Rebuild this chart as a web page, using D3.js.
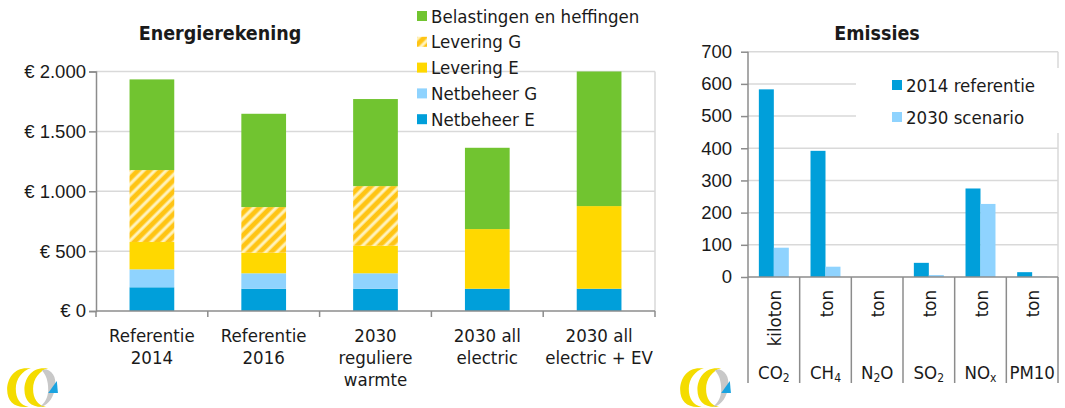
<!DOCTYPE html>
<html>
<head>
<meta charset="utf-8">
<script src="https://cdn.jsdelivr.net/npm/d3@7"></script>
<style>
  body { margin: 0; background: #fff; }
  svg { display: block; font-family: "DejaVu Sans Condensed", "DejaVu Sans", sans-serif; font-stretch: condensed; }
  text { fill: #1a1a1a; }
</style>
</head>
<body>
<svg width="1065" height="408"></svg>
<script>
// --- data: energierekening (euro per jaar) ---
let costCats = ['Referentie|2014', 'Referentie|2016', '2030|reguliere|warmte', '2030 all|electric', '2030 all|electric + EV']
let netbeheerE = [198, 186, 186, 186, 186]
let netbeheerG = [150, 129, 129, 0, 0]
let leveringE = [228, 172, 230, 498, 690]
let leveringG = [601, 381, 498, 0, 0]
let belastingen = [757, 779, 727, 679, 1124]
let costTicks = [0, 500, 1000, 1500, 2000]

// --- data: emissies ---
let pollutants = ['CO2', 'CH4', 'N2O', 'SO2', 'NOx', 'PM10']
let units = ['kiloton', 'ton', 'ton', 'ton', 'ton', 'ton']
let ref2014 = [583, 392, 0, 44, 275, 15]
let scen2030 = [91, 32, 0, 6, 227, 1]
let emisTicks = [0, 100, 200, 300, 400, 500, 600, 700]

let svg = d3.select('svg')
let gridColor = '#d9d9d9'
let axisColor = '#8c8c8c'
let fs = '18.5px'

let defs = svg.append('defs')
let pat = defs.append('pattern')
    .attr('id', 'hatch')
    .attr('patternUnits', 'userSpaceOnUse')
    .attr('width', 8).attr('height', 8)
    .attr('patternTransform', 'rotate(45)')
pat.append('rect').attr('width', 8).attr('height', 8).attr('fill', '#fff2bd')
pat.append('rect').attr('x', 0).attr('width', 4).attr('height', 8).attr('fill', '#ffc414')
pat.append('rect').attr('x', 4).attr('width', 1).attr('height', 8).attr('fill', '#ffd95c')
pat.append('rect').attr('x', 7).attr('width', 1).attr('height', 8).attr('fill', '#ffe27e')

// ================= left chart =================
let keys = ['netbeheerE', 'netbeheerG', 'leveringE', 'leveringG', 'belastingen']
let colors = {
    netbeheerE: '#009fda',
    netbeheerG: '#8fd3fe',
    leveringE: '#ffd800',
    leveringG: 'url(#hatch)',
    belastingen: '#71c430'
}
let labels = {
    netbeheerE: 'Netbeheer E',
    netbeheerG: 'Netbeheer G',
    leveringE: 'Levering E',
    leveringG: 'Levering G',
    belastingen: 'Belastingen en heffingen'
}
let rows = costCats.map((c, i) => ({
    cat: c,
    netbeheerE: netbeheerE[i],
    netbeheerG: netbeheerG[i],
    leveringE: leveringE[i],
    leveringG: leveringG[i],
    belastingen: belastingen[i]
}))

let xL = d3.scaleBand().domain(costCats).range([96, 655]).paddingInner(0.6).paddingOuter(0.3)
let yL = d3.scaleLinear().domain([0, 2000]).range([311, 71.5])

let left = svg.append('g')

// gridlines
left.selectAll('.grid')
    .data(costTicks.slice(1))
    .enter()
    .append('line')
    .attr('x1', 96).attr('x2', 655)
    .attr('y1', d => yL(d)).attr('y2', d => yL(d))
    .attr('stroke', gridColor).attr('stroke-width', 1.5)
left.append('line')
    .attr('x1', 655).attr('x2', 655)
    .attr('y1', yL(2000)).attr('y2', yL(0))
    .attr('stroke', gridColor).attr('stroke-width', 1.5)

let stacked = d3.stack().keys(keys)(rows)
left.selectAll('.layer')
    .data(stacked)
    .enter()
    .append('g')
    .attr('fill', d => colors[d.key])
    .selectAll('rect')
    .data(d => d)
    .enter()
    .append('rect')
    .attr('x', d => xL(d.data.cat))
    .attr('width', xL.bandwidth())
    .attr('y', d => yL(d[1]))
    .attr('height', d => yL(d[0]) - yL(d[1]))

// y axis
let yAxisL = d3.axisLeft(yL)
    .tickValues(costTicks)
    .tickSize(7)
    .tickFormat(d => '€ ' + d3.format(',')(d).replace(',', '.'))
let ya = left.append('g')
    .attr('transform', 'translate(96,0)')
    .call(yAxisL)
ya.select('.domain').attr('stroke', axisColor).attr('stroke-width', 1.5)
ya.selectAll('.tick line').attr('stroke', axisColor).attr('stroke-width', 1.5)
ya.selectAll('.tick text')
    .attr('x', -10)
    .style('font-size', fs)
    .style('font-family', null)
    .attr('font-family', null)
    .attr('fill', '#1a1a1a')

// x axis line + boundary ticks
left.append('line')
    .attr('x1', 96).attr('x2', 655)
    .attr('y1', 311).attr('y2', 311)
    .attr('stroke', axisColor).attr('stroke-width', 1.5)
let step = xL.step()
left.selectAll('.xtick')
    .data(d3.range(costCats.length + 1))
    .enter()
    .append('line')
    .attr('x1', i => 96 + i * step).attr('x2', i => 96 + i * step)
    .attr('y1', 311).attr('y2', 317)
    .attr('stroke', axisColor).attr('stroke-width', 1.5)

// category labels
left.selectAll('.xlab')
    .data(costCats)
    .enter()
    .append('text')
    .attr('text-anchor', 'middle')
    .style('font-size', fs)
    .each(function (d) {
        let t = d3.select(this)
        d.split('|').forEach((line, j) => {
            t.append('tspan')
                .attr('x', xL(d) + xL.bandwidth() / 2)
                .attr('y', 342 + j * 22)
                .text(line)
        })
    })

// title
left.append('text')
    .attr('x', 220).attr('y', 40)
    .attr('text-anchor', 'middle')
    .style('font-size', '19.5px')
    .style('font-weight', 'bold')
    .text('Energierekening')

// legend
let legKeys = keys.slice().reverse()
let leg = left.selectAll('.leg')
    .data(legKeys)
    .enter()
    .append('g')
    .attr('transform', (d, i) => 'translate(417,' + (16 + i * 25.8) + ')')
leg.append('rect')
    .attr('x', 0).attr('y', -5)
    .attr('width', 10).attr('height', 10)
    .attr('fill', d => colors[d])
leg.append('text')
    .attr('x', 14).attr('y', 6.5)
    .style('font-size', fs)
    .text(d => labels[d])

// ================= right chart =================
let xR = d3.scaleBand().domain(pollutants).range([748, 1058]).paddingInner(0.42).paddingOuter(0.21)
let xSub = d3.scaleBand().domain(['2014', '2030']).range([0, xR.bandwidth()])
let yR = d3.scaleLinear().domain([0, 700]).range([277, 51.7])

let right = svg.append('g')

right.selectAll('.grid')
    .data(emisTicks.slice(1))
    .enter()
    .append('line')
    .attr('x1', 748).attr('x2', 1058)
    .attr('y1', d => yR(d)).attr('y2', d => yR(d))
    .attr('stroke', gridColor).attr('stroke-width', 1.5)
right.append('line')
    .attr('x1', 1058).attr('x2', 1058)
    .attr('y1', yR(700)).attr('y2', yR(0))
    .attr('stroke', gridColor).attr('stroke-width', 1.5)

let emisRows = pollutants.map((p, i) => ({ p: p, v2014: ref2014[i], v2030: scen2030[i] }))
let grp = right.selectAll('.grp')
    .data(emisRows)
    .enter()
    .append('g')
    .attr('transform', d => 'translate(' + xR(d.p) + ',0)')
grp.append('rect')
    .attr('x', xSub('2014'))
    .attr('width', xSub.bandwidth())
    .attr('y', d => yR(d.v2014))
    .attr('height', d => yR(0) - yR(d.v2014))
    .attr('fill', '#009fda')
grp.append('rect')
    .attr('x', xSub('2030'))
    .attr('width', xSub.bandwidth())
    .attr('y', d => yR(d.v2030))
    .attr('height', d => yR(0) - yR(d.v2030))
    .attr('fill', '#8fd3fe')

// y axis
let yAxisR = d3.axisLeft(yR).tickValues(emisTicks).tickSize(7)
let yr = right.append('g')
    .attr('transform', 'translate(748,0)')
    .call(yAxisR)
yr.select('.domain').remove()
yr.selectAll('.tick line').attr('stroke', axisColor).attr('stroke-width', 1.5)
yr.selectAll('.tick text')
    .attr('x', -16)
    .style('font-size', fs)
    .attr('font-family', null)
    .attr('fill', '#1a1a1a')

right.append('line')
    .attr('x1', 748).attr('x2', 748)
    .attr('y1', yR(700)).attr('y2', 383)
    .attr('stroke', axisColor).attr('stroke-width', 1.5)
right.append('line')
    .attr('x1', 748).attr('x2', 1058)
    .attr('y1', 277).attr('y2', 277)
    .attr('stroke', axisColor).attr('stroke-width', 1.5)

// table separators
let stepR = xR.step()
right.selectAll('.sep')
    .data(d3.range(1, pollutants.length + 1))
    .enter()
    .append('line')
    .attr('x1', i => 748 + i * stepR).attr('x2', i => 748 + i * stepR)
    .attr('y1', 277).attr('y2', 383)
    .attr('stroke', axisColor).attr('stroke-width', 1.5)

// unit labels (rotated)
right.selectAll('.unit')
    .data(pollutants)
    .enter()
    .append('text')
    .attr('text-anchor', 'end')
    .style('font-size', fs)
    .attr('transform', (d, i) => 'translate(' + (xR(d) + xR.bandwidth() / 2 + 7) + ',290) rotate(-90)')
    .text((d, i) => units[i])

// pollutant labels with subscripts
let subs = { CO2: ['CO', '2'], CH4: ['CH', '4'], N2O: ['N', '2', 'O'], SO2: ['SO', '2'], NOx: ['NO', 'x'], PM10: ['PM10'] }
right.selectAll('.poll')
    .data(pollutants)
    .enter()
    .append('text')
    .attr('x', d => xR(d) + xR.bandwidth() / 2)
    .attr('y', 379)
    .attr('text-anchor', 'middle')
    .style('font-size', fs)
    .each(function (d) {
        let t = d3.select(this)
        let parts = subs[d]
        parts.forEach((s, j) => {
            let isSub = j === 1
            t.append('tspan')
                .style('font-size', isSub ? '12px' : fs)
                .attr('dy', isSub ? 3 : (j === 2 ? -3 : 0))
                .text(s)
        })
    })

// title
right.append('text')
    .attr('x', 877).attr('y', 40)
    .attr('text-anchor', 'middle')
    .style('font-size', '19.5px')
    .style('font-weight', 'bold')
    .text('Emissies')

// legend with white box
right.append('rect')
    .attr('x', 856).attr('y', 68)
    .attr('width', 206).attr('height', 65)
    .attr('fill', '#fff')
let legR = right.selectAll('.legr')
    .data([['2014 referentie', '#009fda'], ['2030 scenario', '#8fd3fe']])
    .enter()
    .append('g')
    .attr('transform', (d, i) => 'translate(892,' + (85 + i * 32) + ')')
legR.append('rect')
    .attr('x', 0).attr('y', -5)
    .attr('width', 10).attr('height', 10)
    .attr('fill', d => d[1])
legR.append('text')
    .attr('x', 14).attr('y', 7)
    .style('font-size', fs)
    .text(d => d[0])

// ================= logos =================
let drawLogo = (x, y) => {
    let g = svg.append('g').attr('transform', 'translate(' + x + ',' + y + ') scale(1.08)')
    g.append('path')
        .attr('d', 'M20,2 C8,2 2,12 2,22 C2,32 8,38 18,38 L22,38 C14,36 10,30 10,21 C10,12 16,4 24,2 Z')
        .attr('fill', '#f4dc00')
    g.append('path')
        .attr('d', 'M36,2 C24,2 18,12 18,22 C18,32 24,38 34,38 L38,38 C30,36 26,30 26,21 C26,12 32,4 40,2 Z')
        .attr('fill', '#f4dc00')
    g.append('path')
        .attr('d', 'M38,3 C46,5 48,14 46,22 C44,32 38,37 32,38 C36,35 40,30 40,22 C40,14 38,8 34,4 Z')
        .attr('fill', '#c8c8c8')
    g.append('path')
        .attr('d', 'M40,25 L48,14 L49,25 Z')
        .attr('fill', '#1aa3e0')
}
drawLogo(5, 366)
drawLogo(678, 366)
</script>
</body>
</html>
